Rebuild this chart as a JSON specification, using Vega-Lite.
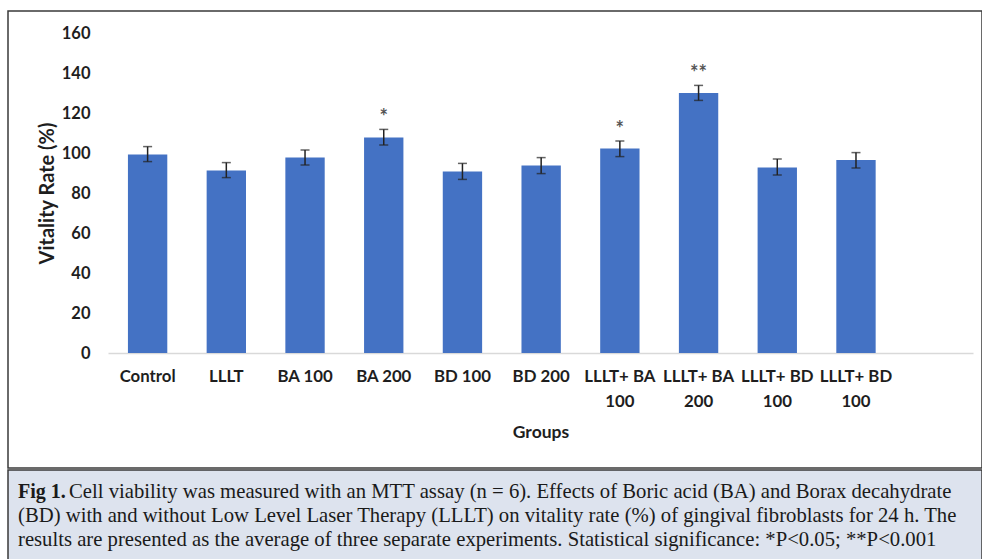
{
  "$schema": "https://vega.github.io/schema/vega-lite/v6.json",
  "padding": {"left": 7, "top": 10, "right": 0, "bottom": 0},
  "background": "white",
  "spacing": 0,
  "config": {
    "view": {"stroke": "#3a3a3a", "strokeWidth": 1.5},
    "font": "Lato"
  },
  "vconcat": [
    {
      "width": 974,
      "height": 457,
      "data": {
        "values": [
          {"group": "Control", "vitality": 99.3, "lo": 95.7, "hi": 103.2, "sig": ""},
          {"group": "LLLT", "vitality": 91.3, "lo": 87.7, "hi": 95.2, "sig": ""},
          {"group": "BA 100", "vitality": 97.7, "lo": 94.0, "hi": 101.5, "sig": ""},
          {"group": "BA 200", "vitality": 107.8, "lo": 104.0, "hi": 111.8, "sig": "*"},
          {"group": "BD 100", "vitality": 90.8, "lo": 86.8, "hi": 94.8, "sig": ""},
          {"group": "BD 200", "vitality": 93.8, "lo": 89.7, "hi": 97.7, "sig": ""},
          {"group": "LLLT+ BA 100", "vitality": 102.3, "lo": 98.2, "hi": 106.0, "sig": "*"},
          {"group": "LLLT+ BA 200", "vitality": 130.0, "lo": 126.3, "hi": 133.8, "sig": "**"},
          {"group": "LLLT+ BD 100", "vitality": 92.8, "lo": 89.0, "hi": 97.0, "sig": ""},
          {"group": "LLLT+ BD 100 ", "vitality": 96.5, "lo": 92.5, "hi": 100.2, "sig": ""}
        ]
      },
      "encoding": {
        "x": {
          "field": "group",
          "type": "nominal",
          "sort": null,
          "scale": {"range": [100, 965], "paddingInner": 0.5, "paddingOuter": 0.745, "align": 0.17},
          "axis": {
            "title": "Groups",
            "offset": -115,
            "domainColor": "#d9d9d9",
            "domainWidth": 1.5,
            "ticks": false,
            "grid": false,
            "labelAngle": 0,
            "labelPadding": 15,
            "labelLineHeight": 25,
            "labelExpr": "indexof(datum.value, 'LLLT+') == 0 ? [substring(datum.value, 0, 8), trim(substring(datum.value, 9))] : datum.value",
            "labelFont": "Lato",
            "labelFontWeight": "bold",
            "labelFontSize": 16.8,
            "labelColor": "#1e1e1e",
            "titleFont": "Lato",
            "titleFontWeight": "bold",
            "titleFontSize": 17.5,
            "titleColor": "#1e1e1e",
            "titlePadding": 14
          }
        }
      },
      "layer": [
        {
          "mark": {"type": "bar", "color": "#4472C4"},
          "encoding": {
            "y": {
              "field": "vitality",
              "type": "quantitative",
              "scale": {"domain": [0, 160], "range": [342, 22]},
              "axis": {
                "title": "Vitality Rate (%)",
                "values": [0, 20, 40, 60, 80, 100, 120, 140, 160],
                "grid": false,
                "domain": false,
                "ticks": false,
                "offset": -100,
                "labelPadding": 18,
                "labelFont": "Lato",
                "labelFontWeight": "bold",
                "labelFontSize": 16.5,
                "labelColor": "#1e1e1e",
                "titleFont": "Lato",
                "titleFontWeight": "bold",
                "titleFontSize": 20,
                "titleColor": "#1e1e1e",
                "titlePadding": 4
              }
            }
          }
        },
        {
          "mark": {"type": "errorbar", "ticks": true, "size": 9, "thickness": 1.5, "color": "#222222"},
          "encoding": {
            "y": {"field": "lo", "type": "quantitative", "title": "Vitality Rate (%)"},
            "y2": {"field": "hi"}
          }
        },
        {
          "transform": [{"filter": "datum.sig != ''"}],
          "mark": {"type": "text", "baseline": "alphabetic", "dy": -5, "font": "Lato", "fontSize": 20, "fontWeight": "bold", "color": "#555555"},
          "encoding": {
            "y": {"field": "hi", "type": "quantitative", "title": "Vitality Rate (%)"},
            "text": {"field": "sig"}
          }
        }
      ]
    },
    {
      "width": 974,
      "height": 92,
      "view": {"fill": "#dde3ee"},
      "data": {
        "values": [
          {"line": 1, "bold": "Fig 1.", "text": "Cell viability was measured with an MTT assay (n = 6). Effects of Boric acid (BA) and Borax decahydrate"},
          {"line": 2, "bold": "", "text": "(BD) with and without Low Level Laser Therapy (LLLT) on vitality rate (%) of gingival fibroblasts for 24 h. The"},
          {"line": 3, "bold": "", "text": "results are presented as the average of three separate experiments. Statistical significance: *P<0.05; **P<0.001"}
        ]
      },
      "encoding": {
        "x": {"datum": 0, "type": "quantitative", "scale": {"domain": [0, 1]}, "axis": null},
        "y": {"field": "line", "type": "ordinal", "scale": {"type": "point", "padding": 0.917}, "axis": null}
      },
      "layer": [
        {
          "transform": [{"filter": "datum.line == 1"}],
          "mark": {"type": "text", "align": "left", "baseline": "alphabetic", "dx": 10, "dy": 6, "font": "Liberation Serif", "fontSize": 20, "fontWeight": "bold", "color": "#1a1a1a", "clip": true},
          "encoding": {"text": {"field": "bold"}}
        },
        {
          "transform": [{"filter": "datum.line == 1"}],
          "mark": {"type": "text", "align": "left", "baseline": "alphabetic", "dx": 61, "dy": 6, "font": "Liberation Serif", "fontSize": 20.7, "color": "#1a1a1a", "clip": true},
          "encoding": {"text": {"field": "text"}}
        },
        {
          "transform": [{"filter": "datum.line > 1"}],
          "mark": {"type": "text", "align": "left", "baseline": "alphabetic", "dx": 10, "dy": 6, "font": "Liberation Serif", "fontSize": 20.7, "color": "#1a1a1a", "clip": true},
          "encoding": {"text": {"field": "text"}}
        }
      ]
    }
  ]
}
